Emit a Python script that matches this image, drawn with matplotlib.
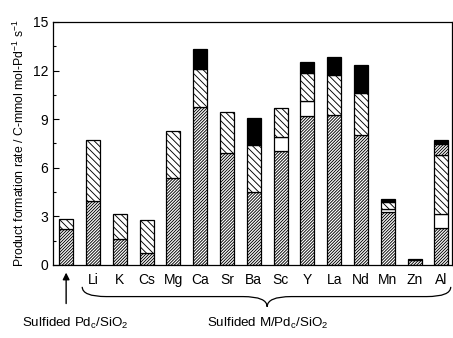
import numpy as np
import matplotlib
matplotlib.use("Agg")
import matplotlib.pyplot as plt
import matplotlib.transforms as mtransforms
from matplotlib.path import Path
from matplotlib.patches import PathPatch

plt.rcParams['font.family'] = ['Liberation Sans', 'DejaVu Sans']
plt.rcParams['mathtext.default'] = 'regular'
plt.rcParams['hatch.linewidth'] = 0.65

labels = ['', 'Li', 'K', 'Cs', 'Mg', 'Ca', 'Sr', 'Ba', 'Sc', 'Y', 'La', 'Nd', 'Mn', 'Zn', 'Al']
# stacked segments, bottom to top
dense = [2.20, 3.92, 1.63, 0.72, 5.35, 9.74, 6.92, 4.48, 7.02, 9.18, 9.23, 8.05, 3.26, 0.28, 2.31]
white = [0, 0, 0, 0, 0, 0, 0, 0, 0.88, 0.93, 0, 0, 0.21, 0, 0.83]
wide = [0.63, 3.78, 1.53, 2.07, 2.93, 2.33, 2.55, 2.91, 1.82, 1.72, 2.47, 2.58, 0.41, 0, 3.67]
dense2 = [0, 0, 0, 0, 0, 0, 0, 0, 0, 0, 0, 0, 0, 0, 0.68]
black = [0, 0, 0, 0, 0, 1.29, 0, 1.67, 0, 0.67, 1.14, 1.73, 0.22, 0.07, 0.25]

x = np.arange(len(labels))
w = 0.52

fig = plt.figure(figsize=(4.53, 3.38), dpi=100)
ax = fig.add_axes([0.117, 0.216, 0.881, 0.719])

bottom = np.zeros(len(x))
for vals, fc, hatch in [(dense, 'white', '/' * 11), (white, 'white', None),
                        (wide, 'white', '\\' * 5), (dense2, 'white', '/' * 11),
                        (black, 'black', None)]:
    v = np.array(vals)
    m = v > 0
    ax.bar(x[m], v[m], w, bottom=bottom[m], color=fc, edgecolor='black',
           hatch=hatch, linewidth=0.9)
    bottom += v

ax.set_ylim(0, 15)
ax.set_xlim(-0.49, 14.4)
ax.set_yticks(np.arange(0, 16, 3))
ax.set_yticks(np.arange(0, 15.1, 1.5), minor=True)
ax.tick_params(axis='y', direction='in', length=4, labelsize=10, width=0.8)
ax.tick_params(axis='y', which='minor', direction='in', length=2, width=0.8)
ax.set_xticks(x)
ax.set_xticklabels(labels, fontsize=10)
ax.tick_params(axis='x', length=0, pad=6)
for s in ax.spines.values():
    s.set_linewidth(0.9)
ax.set_ylabel('Product formation rate / C-mmol mol-Pd$^{-1}$ s$^{-1}$', fontsize=8.8, labelpad=4)

# annotations below axis
tr = mtransforms.blended_transform_factory(ax.transData, ax.transAxes)
ax.annotate('', xy=(0, -0.02), xytext=(0, -0.17), xycoords=tr, textcoords=tr,
            arrowprops=dict(arrowstyle='-|>', color='black', lw=1, mutation_scale=10))
ax.text(0.35, -0.24, 'Sulfided Pd$_c$/SiO$_2$', transform=tr, ha='center', va='center', fontsize=9.6)

x0, x1, xm = 0.6, 14.35, 7.5
yt, ym, yb = -0.09, -0.13, -0.172
r = 0.9
verts = [(x0, yt), (x0, ym), (x0 + r, ym), (xm - r, ym), (xm, ym), (xm, yb),
         (xm, ym), (xm + r, ym), (x1 - r, ym), (x1, ym), (x1, yt)]
codes = [Path.MOVETO, Path.CURVE3, Path.CURVE3, Path.LINETO, Path.CURVE3, Path.CURVE3,
         Path.CURVE3, Path.CURVE3, Path.LINETO, Path.CURVE3, Path.CURVE3]
ax.add_patch(PathPatch(Path(verts, codes), transform=tr, fill=False, lw=0.9,
                       edgecolor='black', clip_on=False))
ax.text(xm, -0.24, 'Sulfided M/Pd$_c$/SiO$_2$', transform=tr, ha='center', va='center', fontsize=9.6)

fig.savefig('out.png', dpi=100)
